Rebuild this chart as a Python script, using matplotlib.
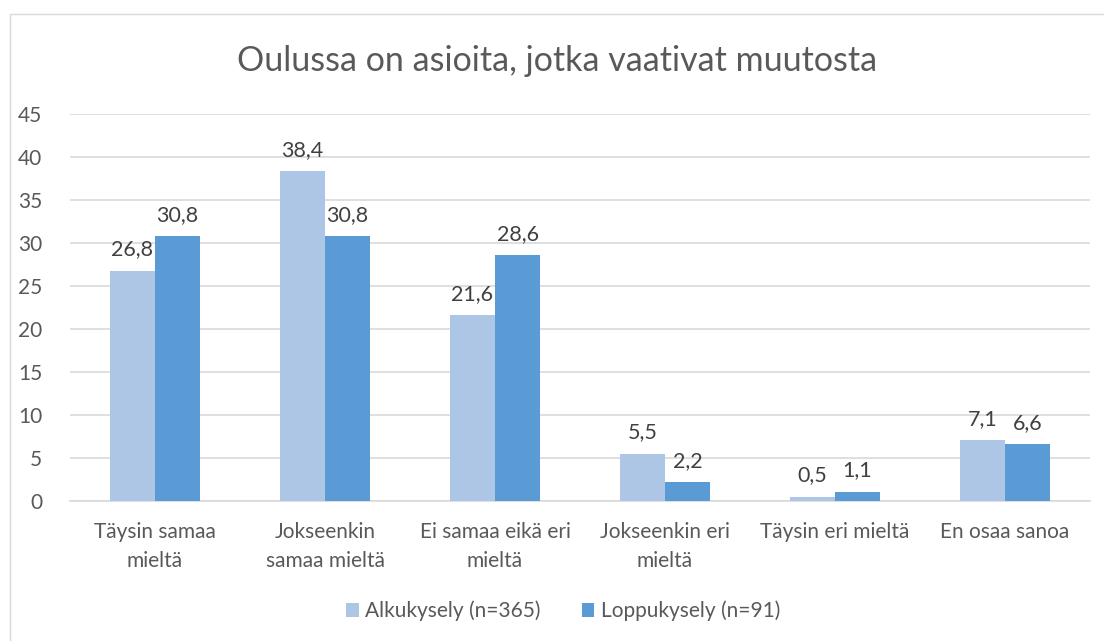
import numpy as np
import matplotlib
matplotlib.use("Agg")
import matplotlib.pyplot as plt
from matplotlib.patches import Rectangle

plt.rcParams['font.family'] = ['Lato', 'DejaVu Sans']

categories = ['Täysin samaa\nmieltä', 'Jokseenkin\nsamaa mieltä', 'Ei samaa eikä eri\nmieltä',
              'Jokseenkin eri\nmieltä', 'Täysin eri mieltä', 'En osaa sanoa']
alku = [26.8, 38.4, 21.6, 5.5, 0.5, 7.1]
loppu = [30.8, 30.8, 28.6, 2.2, 1.1, 6.6]
series_names = ['Alkukysely (n=365)', 'Loppukysely (n=91)']

light = '#ADC6E6'
dark = '#5B9BD5'
txt = '#595959'

fig = plt.figure(figsize=(11.04, 6.41), dpi=100)
fig.patches.append(Rectangle((10/1104, -0.01), 1.1, 1 - 14/641 + 0.01, transform=fig.transFigure,
                             fill=False, edgecolor='#D9D9D9', lw=1))

ax = fig.add_axes([70/1104, 1 - 501/641, 1020/1104, 387/641])
x = np.arange(len(categories))
w = 0.265
b1 = ax.bar(x - w/2, alku, w, color=light, label=series_names[0], zorder=3)
b2 = ax.bar(x + w/2, loppu, w, color=dark, label=series_names[1], zorder=3)

for bars, vals in ((b1, alku), (b2, loppu)):
    for r, v in zip(bars, vals):
        ax.annotate(('%.1f' % v).replace('.', ','), (r.get_x() + r.get_width()/2, v),
                    xytext=(0, 8), textcoords='offset points', ha='center', va='bottom',
                    fontsize=15.5, color='#404040')

ax.set_xlim(-0.5, len(categories) - 0.5)
ax.set_ylim(0, 45)
ax.set_yticks(range(0, 46, 5))
ax.yaxis.grid(True, color='#D9D9D9', lw=1.2, zorder=0)
for s in ('top', 'right', 'left'):
    ax.spines[s].set_visible(False)
ax.spines['bottom'].set_color('#D9D9D9')
ax.spines['bottom'].set_linewidth(1.2)
ax.tick_params(axis='both', length=0, labelsize=15, labelcolor=txt)
ax.tick_params(axis='y', pad=20)
ax.tick_params(axis='x', pad=15)
ax.set_xticks(x)
ax.set_xticklabels(categories, linespacing=1.55)

fig.text(0.505, 1 - 61/641, 'Oulussa on asioita, jotka vaativat muutosta', ha='center', va='center',
         fontsize=24.5, color=txt)

fig.legend(loc='center', bbox_to_anchor=(0.51, 1 - 611/641), ncol=2, frameon=False,
           fontsize=15, labelcolor=txt, handlelength=0.6, handleheight=0.6, columnspacing=2.0,
           handletextpad=0.3)

fig.savefig('out.png', dpi=100)
